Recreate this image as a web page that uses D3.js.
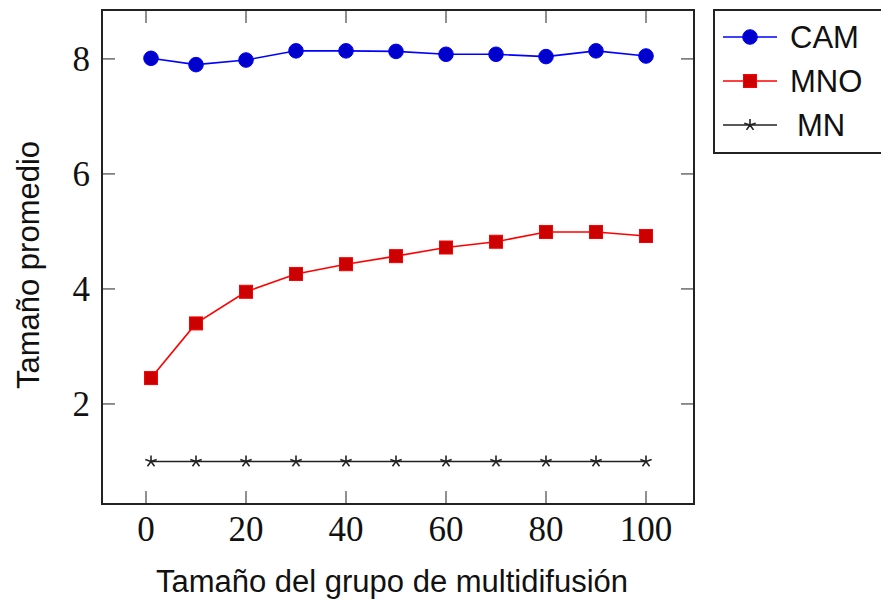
<!DOCTYPE html>
<html lang="es">
<head>
<meta charset="utf-8">
<style>
  body { margin: 0; background: #fff; }
  .tick-label { font-family: "Liberation Serif", "DejaVu Serif", serif; font-size: 35px; fill: #111; }
  .axis-title, .legend-text { font-family: "Liberation Sans", Arial, sans-serif; font-size: 31px; fill: #111; }
</style>
<script src="https://cdn.jsdelivr.net/npm/d3@7/dist/d3.min.js"></script>
</head>
<body>
<svg width="881" height="603"></svg>
<script>
// data
var xs = [1, 10, 20, 30, 40, 50, 60, 70, 80, 90, 100];
var cam = [8.01, 7.90, 7.98, 8.14, 8.14, 8.13, 8.08, 8.08, 8.04, 8.14, 8.05];
var mno = [2.45, 3.40, 3.95, 4.26, 4.43, 4.57, 4.72, 4.82, 4.99, 4.99, 4.92];
var mn  = [1, 1, 1, 1, 1, 1, 1, 1, 1, 1, 1];
var xTicks = [0, 20, 40, 60, 80, 100];
var yTicks = [2, 4, 6, 8];

var svg = d3.select("svg");
var pLeft = 102, pRight = 694, pTop = 10, pBottom = 504;

var x = d3.scaleLinear().domain([-8.8, 109.6]).range([pLeft, pRight]);
var y = d3.scaleLinear().domain([0.26, 8.85]).range([pBottom, pTop]);

// ticks (inward, both sides)
var tickLen = 13;
var tickColor = "#6b6b6b";
xTicks.forEach(function(t) {
    svg.append("line").attr("x1", x(t)).attr("x2", x(t)).attr("y1", pBottom).attr("y2", pBottom - tickLen)
        .attr("stroke", tickColor).attr("stroke-width", 1.5);
    svg.append("line").attr("x1", x(t)).attr("x2", x(t)).attr("y1", pTop).attr("y2", pTop + tickLen)
        .attr("stroke", tickColor).attr("stroke-width", 1.5);
    svg.append("text").attr("class", "tick-label").attr("x", x(t)).attr("y", 541)
        .attr("text-anchor", "middle").text(t);
});
yTicks.forEach(function(t) {
    svg.append("line").attr("x1", pLeft).attr("x2", pLeft + tickLen).attr("y1", y(t)).attr("y2", y(t))
        .attr("stroke", tickColor).attr("stroke-width", 1.5);
    svg.append("line").attr("x1", pRight).attr("x2", pRight - tickLen).attr("y1", y(t)).attr("y2", y(t))
        .attr("stroke", tickColor).attr("stroke-width", 1.5);
    svg.append("text").attr("class", "tick-label").attr("x", 90).attr("y", y(t)).attr("dy", "0.35em")
        .attr("text-anchor", "end").text(t);
});

var line = d3.line().x(function(d) { return x(d[0]); }).y(function(d) { return y(d[1]); });
function pts(vals) { return xs.map(function(v, i) { return [v, vals[i]]; }); }

function drawMark(g, kind, cx, cy) {
    if (kind == "circle") {
        g.append("circle").attr("cx", cx).attr("cy", cy).attr("r", 7.3)
            .attr("fill", "#0000cc").attr("stroke", "#0000ff").attr("stroke-width", 1);
    } else if (kind == "square") {
        g.append("rect").attr("x", cx - 6.5).attr("y", cy - 6.5).attr("width", 13).attr("height", 13)
            .attr("fill", "#cc0000").attr("stroke", "#ff0000").attr("stroke-width", 1);
    } else {
        // five-point asterisk like pgfplots "star"
        var p = "";
        for (var k = 0; k < 5; k++) {
            var a = -Math.PI / 2 + k * 2 * Math.PI / 5;
            p += "M" + cx + "," + cy + "L" + (cx + 6 * Math.cos(a)) + "," + (cy + 6 * Math.sin(a));
        }
        g.append("path").attr("d", p).attr("stroke", "#222").attr("stroke-width", 1.6).attr("fill", "none");
    }
}

var series = [
    { name: "CAM", vals: cam, color: "#0000ff", mark: "circle" },
    { name: "MNO", vals: mno, color: "#ff0000", mark: "square" },
    { name: "MN", vals: mn, color: "#222222", mark: "star" }
];

series.forEach(function(s) {
    var g = svg.append("g");
    g.append("path").datum(pts(s.vals)).attr("d", line)
        .attr("fill", "none").attr("stroke", s.color).attr("stroke-width", 1.6);
    pts(s.vals).forEach(function(d) { drawMark(g, s.mark, x(d[0]), y(d[1])); });
});

// frame
svg.append("rect").attr("x", pLeft).attr("y", pTop).attr("width", pRight - pLeft).attr("height", pBottom - pTop)
    .attr("fill", "none").attr("stroke", "#222").attr("stroke-width", 2);

// axis titles
svg.append("text").attr("class", "axis-title").attr("x", 392).attr("y", 592)
    .attr("text-anchor", "middle").text("Tamaño del grupo de multidifusión");
svg.append("text").attr("class", "axis-title")
    .attr("transform", "translate(39,265) rotate(-90)")
    .attr("text-anchor", "middle").text("Tamaño promedio");

// legend
var lg = svg.append("g");
lg.append("rect").attr("x", 714).attr("y", 10).attr("width", 180).attr("height", 143)
    .attr("fill", "#fff").attr("stroke", "#222").attr("stroke-width", 2);
var rowY = [37, 81, 125];
var textX = [790, 790, 797];
series.forEach(function(s, i) {
    lg.append("line").attr("x1", 723).attr("x2", 777).attr("y1", rowY[i]).attr("y2", rowY[i])
        .attr("stroke", s.color).attr("stroke-width", 1.6);
    drawMark(lg, s.mark, 750, rowY[i]);
    lg.append("text").attr("class", "legend-text").attr("x", textX[i]).attr("y", rowY[i]).attr("dy", "0.36em")
        .text(s.name);
});
</script>
</body>
</html>
